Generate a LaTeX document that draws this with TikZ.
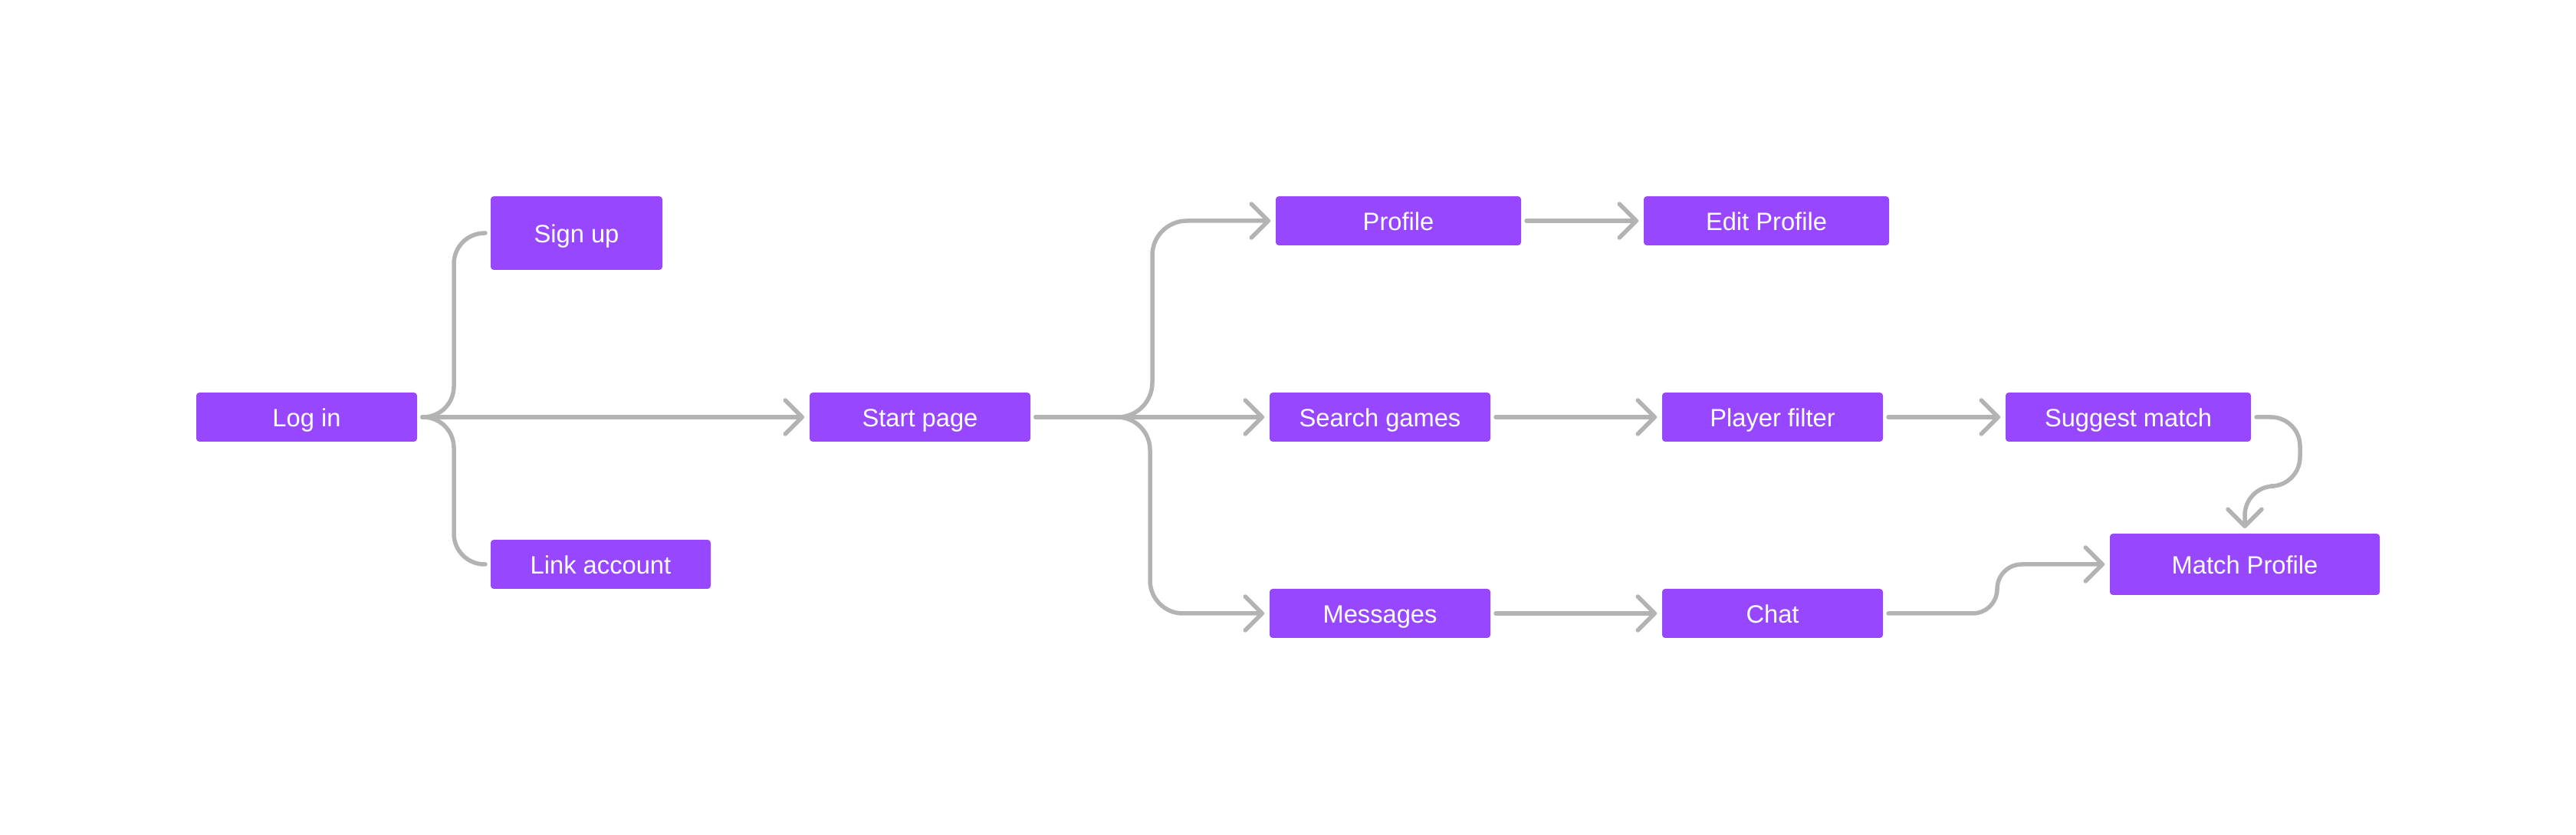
\documentclass[tikz,border=0pt]{standalone}
\usepackage{fontspec}
\setmainfont{Liberation Sans}
\usetikzlibrary{arrows.meta}
\definecolor{screenPurple}{HTML}{9747FF}
\definecolor{flowGray}{HTML}{B3B3B3}
\begin{document}
\begin{tikzpicture}[
        screen/.style={fill=screenPurple, text=white, rounded corners=0.04cm, inner sep=0pt, outer sep=0.07cm,
            minimum height=0.64cm, minimum width=2.88cm, text height=0.93em, text depth=0.24em,
            font=\fontsize{9.3pt}{11pt}\selectfont},
        flow/.style={draw=flowGray, line width=0.055cm, line cap=round, line join=round},
        flowArrow/.style={flow, -{Straight Barb[length=0.22cm, width=0.44cm, round]}}
    ]
        \useasboundingbox (0,0) rectangle (33.6,10.88);

        \node[screen] (logIn) at (4.00,5.44) {Log in};
        \node[screen, minimum width=2.24cm, minimum height=0.96cm] (signUp) at (7.52,7.84) {Sign up};
        \node[screen, minimum width=2.87cm] (linkAccount) at (7.835,3.52) {Link account};

        \node[screen] (startPage) at (12.00,5.44) {Start page};

        \node[screen, minimum width=3.20cm] (profile) at (18.24,8.00) {Profile};
        \node[screen] (searchGames) at (18.00,5.44) {Search games};
        \node[screen] (messages) at (18.00,2.88) {Messages};

        \node[screen, minimum width=3.20cm] (editProfile) at (23.04,8.00) {Edit Profile};
        \node[screen] (playerFilter) at (23.12,5.44) {Player filter};
        \node[screen] (chat) at (23.12,2.88) {Chat};

        \node[screen, minimum width=3.20cm] (suggestMatch) at (27.76,5.44) {Suggest match};
        \node[screen, minimum width=3.52cm, minimum height=0.80cm] (matchProfile) at (29.28,3.52) {Match Profile};

        % branches from log in
        \draw[flow, rounded corners=0.4cm] (logIn.east) -- ++(0.41,0) |- (signUp.west);
        \draw[flow, rounded corners=0.4cm] (logIn.east) -- ++(0.41,0) |- (linkAccount.west);
        \draw[flowArrow] (logIn) -- (startPage);

        % branches from start page
        \draw[flowArrow, rounded corners=0.45cm] (startPage.east) -- (15.03,5.44) |- (profile.west);
        \draw[flowArrow] (startPage) -- (searchGames);
        \draw[flowArrow, rounded corners=0.43cm] (startPage.east) -- (15.00,5.44) |- (messages.west);

        \draw[flowArrow] (profile) -- (editProfile);
        \draw[flowArrow] (searchGames) -- (playerFilter);
        \draw[flowArrow] (playerFilter) -- (suggestMatch);
        \draw[flowArrow] (messages) -- (chat);

        % into match profile
        \draw[flowArrow, rounded corners=0.38cm] (suggestMatch.east) -- (30.00,5.44) -- (30.00,4.54)
            -- (29.28,4.54) -- (matchProfile.north);
        \draw[flowArrow, rounded corners=0.32cm] (chat.east) -- (26.05,2.88) |- (matchProfile.west);
    \end{tikzpicture}
\end{document}
